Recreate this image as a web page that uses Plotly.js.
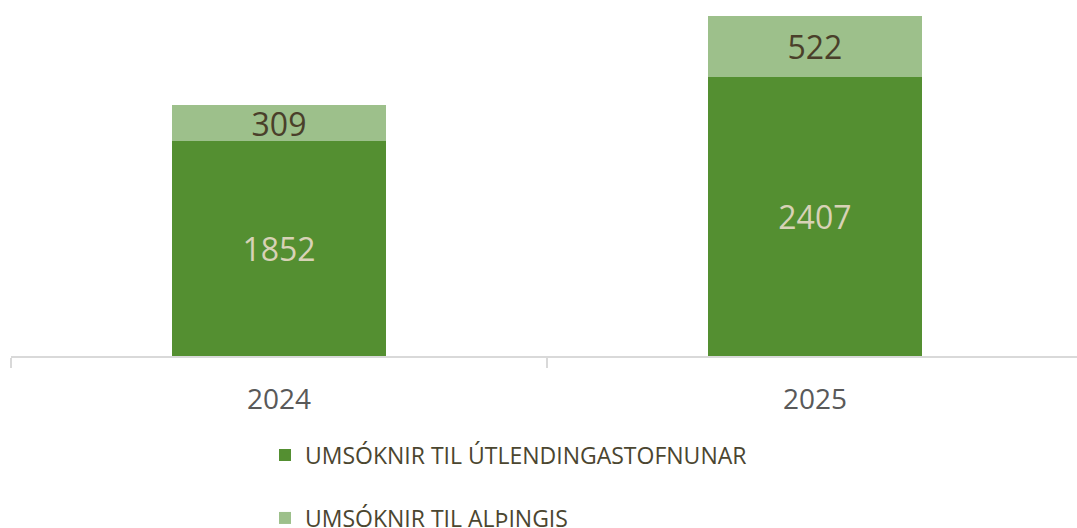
<!DOCTYPE html>
<html>
<head>
<meta charset="utf-8">
<script src="https://cdn.plot.ly/plotly-3.0.1.min.js"></script>
<style>html,body{margin:0;padding:0;background:#fff;}</style>
</head>
<body>
<div id="chart" style="width:1077px;height:528px;"></div>
<script>
const years = ["2024", "2025"];
const utlendingastofnun = [1852, 2407];
const althingi = [309, 522];
const seriesNames = ["UMSÓKNIR TIL ÚTLENDINGASTOFNUNAR", "UMSÓKNIR TIL ALÞINGIS"];

const FONT = "Open Sans, Noto Sans, sans-serif";

const traces = [
  {
    type: "bar", x: years, y: utlendingastofnun, name: seriesNames[0],
    marker: {color: "#548f31"},
    text: utlendingastofnun.map(String), textposition: "inside",
    insidetextanchor: "middle", constraintext: "none",
    textfont: {family: FONT, size: 32, color: "#d8d2b6"},
    hoverinfo: "none", legend: "legend"
  },
  {
    type: "bar", x: years, y: althingi, name: seriesNames[1],
    marker: {color: "#9dc08b"},
    text: althingi.map(String), textposition: "inside",
    insidetextanchor: "middle", constraintext: "none",
    textfont: {family: FONT, size: 32, color: "#4a3f2a"},
    hoverinfo: "none", legend: "legend2"
  }
];

const legendCommon = {
  xref: "container", yref: "container", x: 265/1077, xanchor: "left",
  yanchor: "middle", orientation: "v",
  font: {family: FONT, size: 23, color: "#4b4630"},
  bgcolor: "rgba(0,0,0,0)", borderwidth: 0
};

const layout = {
  width: 1077, height: 528,
  margin: {l: 11, r: 0, t: 8, b: 172, pad: 0, autoexpand: false},
  paper_bgcolor: "#ffffff", plot_bgcolor: "#ffffff",
  barmode: "stack", bargap: 0.6,
  showlegend: true,
  legend: Object.assign({}, legendCommon, {y: 1 - 455/528}),
  legend2: Object.assign({}, legendCommon, {y: 1 - 518/528}),
  xaxis: {
    type: "category", range: [-0.5, 1.489],
    showline: true, linecolor: "#d9d9d9", linewidth: 2,
    ticks: "outside", tickson: "boundaries", ticklen: 10, tickcolor: "#d9d9d9", tickwidth: 2,
    ticklabelstandoff: 17,
    showgrid: false, zeroline: false,
    tickfont: {family: FONT, size: 28, color: "#595959"}
  },
  yaxis: {
    range: [0, 3000], visible: false, showgrid: false, zeroline: false
  }
};

Plotly.newPlot("chart", traces, layout, {staticPlot: true, displayModeBar: false});
</script>
</body>
</html>
